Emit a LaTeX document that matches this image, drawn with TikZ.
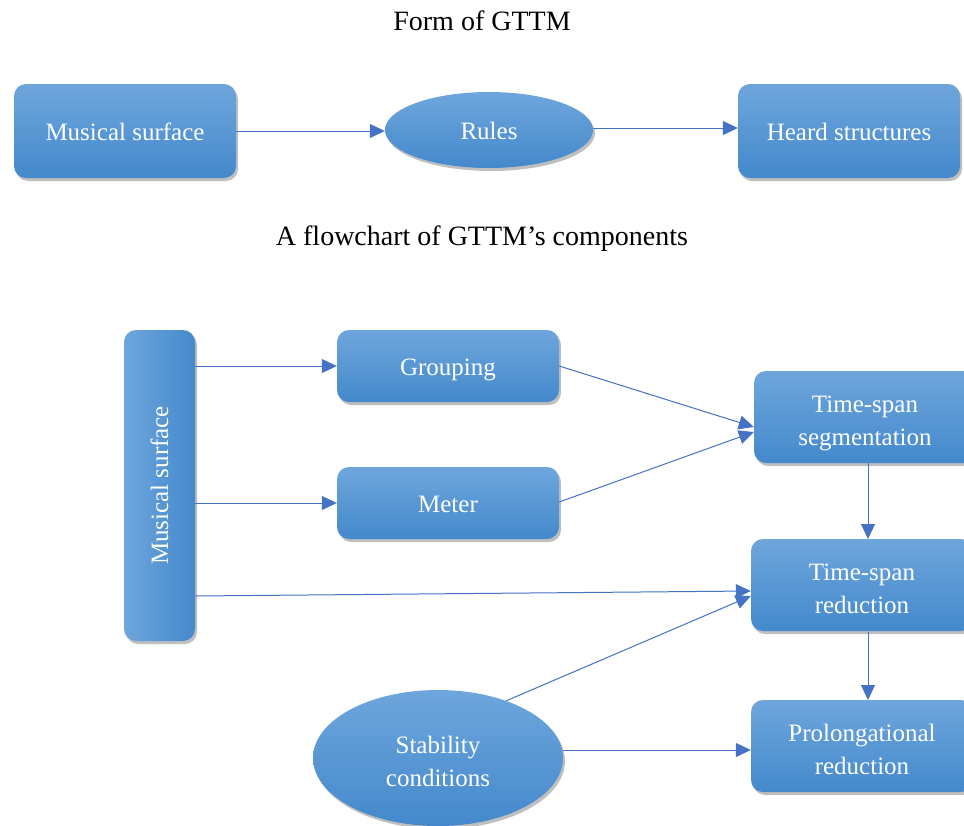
\documentclass[tikz,border=0pt]{standalone}
\usepackage{fontspec}
\setmainfont{Liberation Serif}
\usetikzlibrary{shapes.geometric,arrows.meta,shadows}
\definecolor{lineblue}{HTML}{4472C4}
\definecolor{boxtop}{HTML}{6EA6DC}
\definecolor{boxbot}{HTML}{4489CC}
\tikzset{
  shade/.style={top color=boxtop,bottom color=boxbot,
    drop shadow={shadow xshift=2pt,shadow yshift=-3pt,fill=black,opacity=0.25}},
  rbox/.style={shade,rounded corners=12pt,inner sep=0pt,text=white,align=center,
    font=\fontsize{25}{33}\selectfont,text height=25pt,text depth=6pt},
  ell/.style={shade,ellipse,inner sep=0pt,text=white,align=center,
    font=\fontsize{25}{33}\selectfont,text height=25pt,text depth=6pt},
  twoline/.style={text height=62pt,text depth=5pt},
  conn/.style={lineblue,line width=1pt,-{Triangle[length=15pt,width=14pt]}},
  ttl/.style={font=\fontsize{28}{32}\selectfont}
}
\begin{document}
\begin{tikzpicture}[x=1pt,y=-1pt]
\useasboundingbox (0,0) rectangle (964,825);
\node[ttl] (t1) at (482,21) {Form of GTTM};
\node[ttl] (t2) at (482,239) {A flowchart of GTTM’s components};

\node[rbox,minimum width=222pt,minimum height=94pt] (ms) at (125,131) {Musical surface};
\node[ell,minimum width=208pt,minimum height=76pt] (rules) at (489,130) {Rules};
\node[rbox,minimum width=222pt,minimum height=94pt] (hs) at (849,131) {Heard structures};
\draw[conn] (ms.east |- 0,131) -- (rules.west |- 0,131);
\draw[conn] (rules.east |- 0,128) -- (hs.west |- 0,128);

\node[rbox,left color=boxtop,right color=boxbot,minimum width=71pt,minimum height=311pt,text height=0pt,text depth=0pt] (msv) at (159.5,485.5) {};
\node[rotate=90,text=white,font=\fontsize{25}{33}\selectfont] (msvt) at (msv.center) {Musical surface};
\node[rbox,minimum width=222pt,minimum height=72pt] (grp) at (448,366) {Grouping};
\node[rbox,minimum width=222pt,minimum height=72pt] (met) at (448,503) {Meter};
\node[rbox,twoline,minimum width=222pt,minimum height=92pt] (tss) at (865,417) {Time-span\\segmentation};
\node[rbox,twoline,minimum width=222pt,minimum height=92pt] (tsr) at (862,585) {Time-span\\reduction};
\node[rbox,twoline,minimum width=222pt,minimum height=92pt] (pr) at (862,746) {Prolongational\\reduction};
\node[ell,twoline,minimum width=250pt,minimum height=136pt] (stab) at (438,758) {Stability\\conditions};

\draw[conn] (msv.east |- 0,366) -- (grp.west |- 0,366);
\draw[conn] (msv.east |- 0,503) -- (met.west |- 0,503);
\draw[conn] (msv.east |- 0,596) -- (tsr.west |- 0,591);
\draw[conn] (grp.east |- 0,366) -- (tss.west |- 0,427);
\draw[conn] (met.east |- 0,502) -- (tss.west |- 0,432);
\draw[conn] (868,463) -- (868,539);
\draw[conn] (868,632) -- (868,700);
\draw[conn] (stab.40) -- (tsr.west |- 0,596);
\draw[conn] (stab.east |- 0,750) -- (pr.west |- 0,750);
\end{tikzpicture}
\end{document}
